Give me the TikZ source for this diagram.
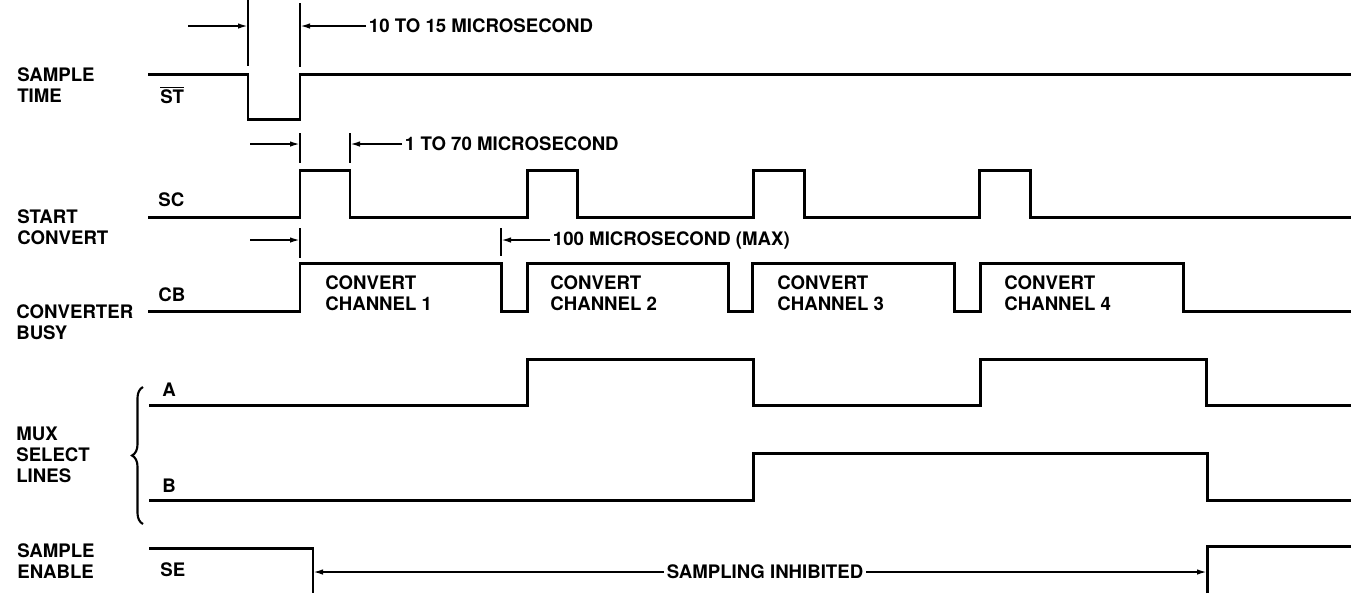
\documentclass[tikz,border=0pt]{standalone}
\usepackage{fontspec}
\setmainfont{TeX Gyre Heros}
\usetikzlibrary{arrows.meta, decorations.pathreplacing}

\begin{document}
\begin{tikzpicture}[
  x=0.02cm, y=-0.02cm,
  sig/.style = {line width=1.7pt, line join=miter},
  tick/.style = {line width=0.8pt},
  arr/.style = {-{Latex[length=2mm,width=1.1mm]}, line width=1pt},
  lbl/.style = {anchor=west, inner sep=0pt, align=left,
                font=\fontsize{10.6}{11.9}\selectfont\bfseries},
  txt/.style = {lbl, inner sep=1.5pt}
]
\useasboundingbox (0,0) rectangle (1351,593);

% signal names
\node[lbl] (stn) at (17,85.5) {SAMPLE\\TIME};
\node[lbl] (scn) at (17,227.5) {START\\CONVERT};
\node[lbl] (cbn) at (16,322.5) {CONVERTER\\BUSY};
\node[lbl] (muxn) at (16,455) {MUX\\SELECT\\LINES};
\node[lbl] (sen) at (17,561) {SAMPLE\\ENABLE};
\node[lbl] (st) at (160,95) {$\overline{\mbox{ST}}$};
\node[lbl] (sc) at (158,200) {SC};
\node[lbl] (cb) at (158,295) {CB};
\node[lbl] (a) at (162,390) {A};
\node[lbl] (b) at (162,486) {B};
\node[lbl] (se) at (160,570) {SE};
\draw[line width=1.2pt, decorate, decoration={brace, amplitude=0.22cm}]
  (143,524) -- (143,387);

% waveforms
\draw[sig] (148,74) -- (248,74) -- (248,119) -- (300,119) -- (300,74) -- (1351,74);
\draw[sig] (148,217) -- (300,217) -- (300,170) -- (350,170) -- (350,217)
  -- (527,217) -- (527,170) -- (577,170) -- (577,217)
  -- (753,217) -- (753,170) -- (804,170) -- (804,217)
  -- (979,217) -- (979,170) -- (1030,170) -- (1030,217) -- (1351,217);
\draw[sig] (148,311) -- (300,311) -- (300,263) -- (501,263) -- (501,311)
  -- (527,311) -- (527,263) -- (728,263) -- (728,311)
  -- (752,311) -- (752,263) -- (954,263) -- (954,311)
  -- (980,311) -- (980,263) -- (1183,263) -- (1183,311) -- (1351,311);
\draw[sig] (149,405) -- (527,405) -- (527,359) -- (753,359) -- (753,405)
  -- (980,405) -- (980,359) -- (1206,359) -- (1206,405) -- (1351,405);
\draw[sig] (149,500) -- (753,500) -- (753,453) -- (1207,453) -- (1207,500) -- (1351,500);
\draw[sig] (149,548) -- (313,548) -- (313,593);
\draw[sig] (1207,593) -- (1207,546) -- (1351,546);

% channel labels
\node[lbl] (ch1) at (325,293) {CONVERT\\CHANNEL 1};
\node[lbl] (ch2) at (550,293) {CONVERT\\CHANNEL 2};
\node[lbl] (ch3) at (777,293) {CONVERT\\CHANNEL 3};
\node[lbl] (ch4) at (1004,293) {CONVERT\\CHANNEL 4};

% timing marks
\draw[tick] (248,0) -- (248,66);
\draw[tick] (300,3) -- (300,67);
\draw[tick] (300,133) -- (300,163);
\draw[tick] (350,133) -- (350,163);
\draw[tick] (300,228) -- (300,258);
\draw[tick] (501,228) -- (501,256);

\coordinate (p1) at (188,26);
\coordinate (p2) at (250,144);
\coordinate (p3) at (250,240);
\node[txt] (t1) at (366,26) {10 TO 15 MICROSECOND};
\node[txt] (t2) at (402,144) {1 TO 70 MICROSECOND};
\node[txt] (t3) at (550,240) {100 MICROSECOND (MAX)};
\node[lbl, anchor=center, inner sep=1.5pt] (inh) at (765,572) {SAMPLING INHIBITED};

\draw[arr] (p1) -- (248,26);
\draw[arr] (t1.west) -- (300,26);
\draw[arr] (p2) -- (300,144);
\draw[arr] (t2.west) -- (350,144);
\draw[arr] (p3) -- (300,240);
\draw[arr] (t3.west) -- (501,240);
\draw[arr] (inh.west) -- (313,572);
\draw[arr] (inh.east) -- (1207,572);
\end{tikzpicture}
\end{document}
